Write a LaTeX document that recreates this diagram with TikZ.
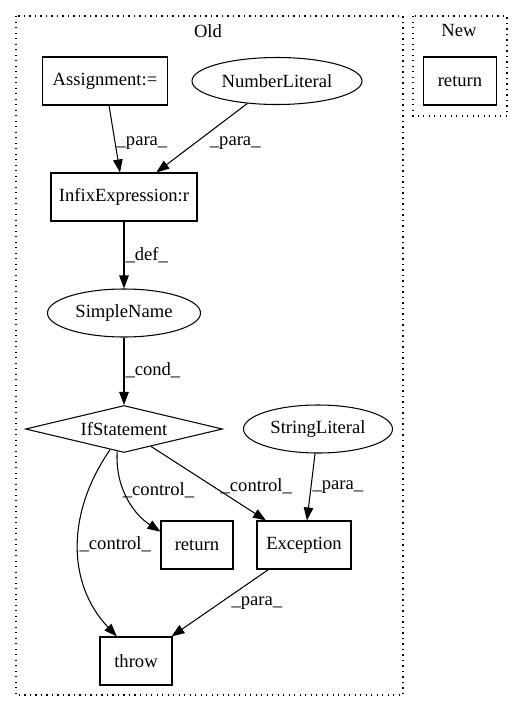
\documentclass[tikz,border=0pt]{standalone}
\usepackage{fontspec}
\setmainfont{Liberation Serif}
\usetikzlibrary{arrows.meta,shapes.geometric}
\tikzset{>={Triangle[length=13pt,width=9.5pt]},
	block/.style={% statement nodes
		draw, rectangle,
		minimum height=48pt,
		inner sep=0pt,
		align=center
	},
	oval/.style={
		draw, ellipse,
		minimum height=48pt,
		inner sep=0pt
	},
	rhombus/.style={
		draw, diamond,
		aspect=4.2,
		minimum width=197pt,
		minimum height=47pt,
		inner sep=0pt
	},
	lbl/.style={anchor=west, inner sep=1pt},
	cluster/.style={draw, line width=1.3pt, dash pattern=on 1.3pt off 4.2pt}
}

\begin{document}
\begin{tikzpicture}[x=1pt, y=-1pt, line width=1.05pt,
		every node/.style={font=\fontsize{18.6}{22}\selectfont}]
		\useasboundingbox (0,0) rectangle (527,712);
		% clusters
		\draw [cluster] (16,16) rectangle (403,695);
		\draw [cluster] (413,16) rectangle (507,116);
		\node (old) at (208,31) {Old};
		\node (new) at (459,31) {New};
		
		\node [block, minimum width=73pt] (RetN) at (460,81) {return};
		
		\node [block, minimum width=125pt] (Asg) at (105,81) {Assignment:=};
		\node [oval, minimum width=170pt, minimum height=47pt] (Num) at (277,81) {NumberLiteral};
		\node [block, minimum width=146pt] (Inf) at (124,197) {InfixExpression:r};
		\node [oval, minimum width=153pt] (Sim) at (124,313) {SimpleName};
		\node [rhombus] (If) at (124,429) {IfStatement};
		\node [oval, minimum width=149pt] (Str) at (318,429) {StringLiteral};
		\node [block, minimum width=72pt] (Ret) at (197,545) {return};
		\node [block, minimum width=94pt] (Exc) at (304,545) {Exception};
		\node [block, minimum width=72pt] (Thr) at (136,661) {throw};
		
		\draw [->] (Asg) -- (Inf) node [lbl, pos=0.56] {\_para\_};
		\draw [->] (Num) -- (Inf) node [lbl, pos=0.57, xshift=13pt] {\_para\_};
		\draw [->] (Inf) -- (Sim) node [lbl, pos=0.5] {\_def\_};
		\draw [->] (Sim) -- (If) node [lbl, pos=0.48] {\_cond\_};
		\draw [->] (If.253) .. controls (115,490) and (135,515) .. (Ret.160)
		node [lbl, pos=0.38, xshift=-2pt] {\_control\_};
		\draw [->] (If) -- (Exc) node [lbl, pos=0.54, xshift=6pt] {\_control\_};
		\draw [->] (If.236) .. controls (65,515) and (68,585) .. (Thr.128)
		node [lbl, pos=0.48] {\_control\_};
		\draw [->] (Str) -- (Exc) node [lbl, pos=0.5] {\_para\_};
		\draw [->] (Exc) -- (Thr) node [lbl, pos=0.5, xshift=10pt] {\_para\_};
	\end{tikzpicture}
\end{document}
